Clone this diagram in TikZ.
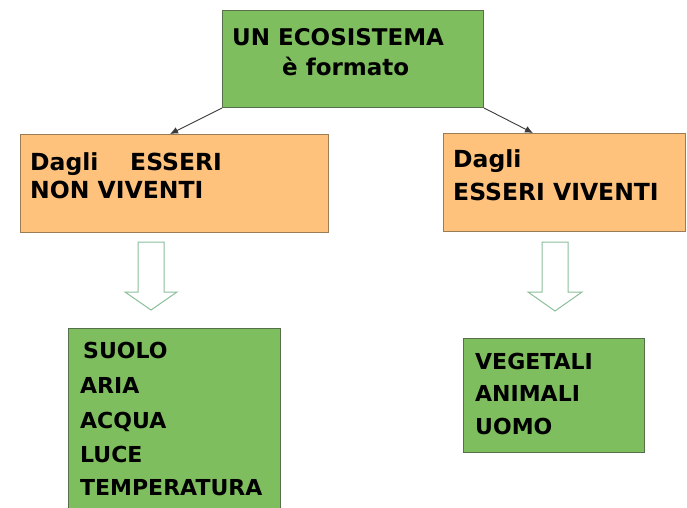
\documentclass[tikz,border=0pt]{standalone}
\usepackage{fontspec}
\setmainfont{DejaVu Sans}
\usetikzlibrary{arrows.meta}
\definecolor{boxgreen}{HTML}{7FBE5E}
\definecolor{greenline}{HTML}{55704A}
\definecolor{boxorange}{HTML}{FFC27C}
\definecolor{orangeline}{HTML}{9C7C55}
\definecolor{arrowline}{HTML}{8CC09A}
\definecolor{conn}{HTML}{3A3A3A}
\begin{document}
\begin{tikzpicture}[x=1pt,y=-1pt,
  greenbox/.style={draw=greenline,fill=boxgreen,line width=1pt,inner sep=0pt},
  orangebox/.style={draw=orangeline,fill=boxorange,line width=1.2pt,inner sep=0pt},
  txt/.style={anchor=base west,inner sep=0pt,font=\fontsize{22}{26}\selectfont\bfseries,text=black},
  bigtxt/.style={txt,font=\fontsize{23.5}{28}\selectfont\bfseries},
  toptxt/.style={txt,font=\fontsize{23}{28}\selectfont\bfseries},
  conn/.style={draw=conn,line width=0.9pt,-{Latex[length=8pt,width=7pt]}},
  blockarrow/.style={draw=arrowline,fill=white,line width=1pt,line join=miter}]
\clip (0,0) rectangle (687,507);
\fill[white] (0,0) rectangle (687,507);
% boxes
\node[greenbox,minimum width=261pt,minimum height=97pt,anchor=north west] (top) at (222,10) {};
\node[orangebox,minimum width=308pt,minimum height=98pt,anchor=north west] (L) at (20,134) {};
\node[orangebox,minimum width=242pt,minimum height=98pt,anchor=north west] (R) at (443,133) {};
\node[greenbox,minimum width=212pt,minimum height=190pt,anchor=north west] (BL) at (68,328) {};
\node[greenbox,minimum width=181pt,minimum height=114pt,anchor=north west] (BR) at (463,338) {};
% texts
\node[toptxt] (t1) at (232,45) {UN ECOSISTEMA};
\node[toptxt] (t2) at (282,75) {è formato};
\node[bigtxt] (l1) at (30,170) {Dagli};
\node[bigtxt] (l2) at (130,170) {ESSERI};
\node[bigtxt] (l3) at (30,198) {NON VIVENTI};
\node[bigtxt] (r1) at (453,167) {Dagli};
\node[bigtxt] (r2) at (453,200) {ESSERI VIVENTI};
\node[txt] (b1) at (83,358) {SUOLO};
\node[txt] (b2) at (80,393) {ARIA};
\node[txt] (b3) at (80,428) {ACQUA};
\node[txt] (b4) at (80,462) {LUCE};
\node[txt] (b5) at (80,495) {TEMPERATURA};
\node[txt] (c1) at (475,369) {VEGETALI};
\node[txt] (c2) at (475,401) {ANIMALI};
\node[txt] (c3) at (475,434) {UOMO};
% connectors
\coordinate (la) at (170,134);
\coordinate (ra) at (533,133);
\draw[conn] (top.south west) -- (la);
\draw[conn] (top.south east) -- (ra);
% hollow block arrows
\draw[blockarrow] (138,242) -- (164,242) -- (164,292) -- (177,292) -- (151,310) -- (125,292) -- (138,292) -- cycle;
\draw[blockarrow] (542,242) -- (568,242) -- (568,292) -- (582,292) -- (555,311) -- (528,292) -- (542,292) -- cycle;
\end{tikzpicture}
\end{document}
